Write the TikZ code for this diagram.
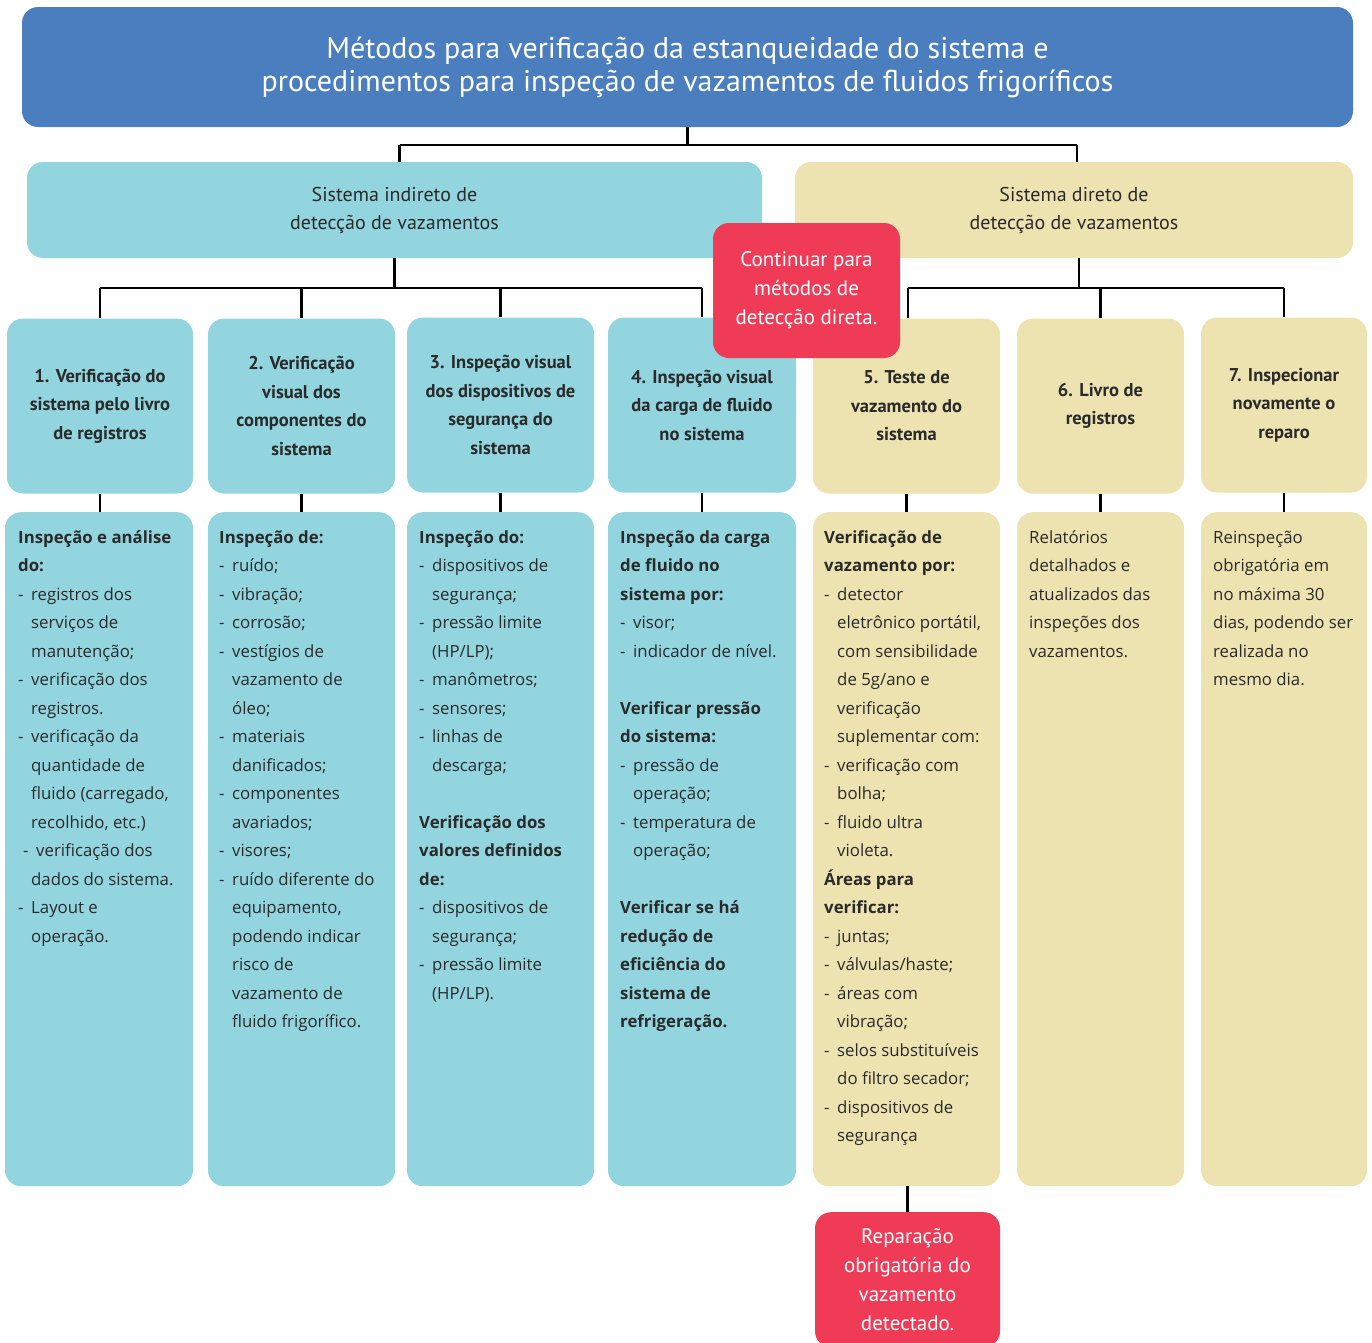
\documentclass[tikz,border=0pt]{standalone}
\usepackage{fontspec}
\setmainfont{Open Sans}
\newfontfamily\headfont{PT Sans}
\usetikzlibrary{calc}
\definecolor{bannerblue}{HTML}{4A7EBF}
\definecolor{indblue}{HTML}{92D5DF}
\definecolor{sand}{HTML}{EDE3B0}
\definecolor{alertred}{HTML}{EF3B55}
\definecolor{ink}{HTML}{2A2A2A}
% list line with a leading dash, and an indented continuation line
\newcommand\dl[1]{\makebox[13pt][l]{-}#1}
\newcommand\cl[1]{\hspace*{13pt}#1}
\begin{document}
\begin{tikzpicture}[x=1pt,y=-1pt,
  panel/.style={rounded corners=16pt, inner sep=0pt, align=center},
  banner/.style={panel, fill=bannerblue, text=white, font=\headfont\fontsize{30}{33}\selectfont},
  group/.style={panel, minimum height=96pt, text=ink, font=\headfont\fontsize{20}{28}\selectfont},
  method/.style={panel, minimum height=175pt, text=ink, font=\headfont\bfseries\fontsize{18.5}{28.5}\selectfont},
  detail/.style={panel, minimum height=674pt, anchor=north},
  body/.style={anchor=base west, inner sep=0pt, text=ink, font=\fontsize{16.8}{28.5}\selectfont},
  alert/.style={panel, fill=alertred, text=white, font=\headfont\fontsize{21}{29}\selectfont},
  conn/.style={draw=black, line width=2.4pt}
]
\useasboundingbox (0,0) rectangle (1372,1342);

% title banner
\node[banner, minimum width=1331pt, minimum height=120pt] (top) at (687.5,67)
  {Métodos para verificação da estanqueidade do sistema e\\procedimentos para inspeção de vazamentos de fluidos frigoríficos};

% the two families of methods
\node[group, fill=indblue, minimum width=735pt] (ind) at (394.5,210)
  {Sistema indireto de\\detecção de vazamentos};
\node[group, fill=sand, minimum width=558pt] (dir) at (1074,210)
  {Sistema direto de\\detecção de vazamentos};

% numbered methods
\node[method, fill=indblue, minimum width=186pt] (b1) at (100,406)
  {1. Verificação do\\sistema pelo livro\\de registros};
\node[method, fill=indblue, minimum width=187pt] (b2) at (301.5,406)
  {2. Verificação\\visual dos\\componentes do\\sistema};
\node[method, fill=indblue, minimum width=187pt] (b3) at (500.5,405)
  {3. Inspeção visual\\dos dispositivos de\\segurança do\\sistema};
\node[method, fill=indblue, minimum width=188pt] (b4) at (702,405)
  {4. Inspeção visual\\da carga de fluido\\no sistema};
\node[method, fill=sand, minimum width=187pt] (b5) at (906.5,406)
  {5. Teste de\\vazamento do\\sistema};
\node[method, fill=sand, minimum width=167pt] (b6) at (1100.5,406)
  {6. Livro de\\registros};
\node[method, fill=sand, minimum width=166pt] (b7) at (1284,405)
  {7. Inspecionar\\novamente o\\reparo};

% detail columns
\node[detail, fill=indblue, minimum width=188pt] (d1) at (99,512) {};
\node[detail, fill=indblue, minimum width=187pt] (d2) at (301.5,512) {};
\node[detail, fill=indblue, minimum width=187pt] (d3) at (500.5,512) {};
\node[detail, fill=indblue, minimum width=188pt] (d4) at (702,512) {};
\node[detail, fill=sand, minimum width=187pt] (d5) at (906.5,512) {};
\node[detail, fill=sand, minimum width=167pt] (d6) at (1100.5,512) {};
\node[detail, fill=sand, minimum width=166pt] (d7) at (1284,512) {};

\node[body] (t1) at (18,543) {\parbox[t]{175pt}{%
\textbf{Inspeção e análise}\\
\textbf{do:}\\
\dl{registros dos}\\
\cl{serviços de}\\
\cl{manutenção;}\\
\dl{verificação dos}\\
\cl{registros.}\\
\dl{verificação da}\\
\cl{quantidade de}\\
\cl{fluido (carregado,}\\
\cl{recolhido, etc.)}\\
\hspace*{5pt}\dl{verificação dos}\\
\cl{dados do sistema.}\\
\dl{Layout e}\\
\cl{operação.}}};

\node[body] (t2) at (219,543) {\parbox[t]{175pt}{%
\textbf{Inspeção de:}\\
\dl{ruído;}\\
\dl{vibração;}\\
\dl{corrosão;}\\
\dl{vestígios de}\\
\cl{vazamento de}\\
\cl{óleo;}\\
\dl{materiais}\\
\cl{danificados;}\\
\dl{componentes}\\
\cl{avariados;}\\
\dl{visores;}\\
\dl{ruído diferente do}\\
\cl{equipamento,}\\
\cl{podendo indicar}\\
\cl{risco de}\\
\cl{vazamento de}\\
\cl{fluido frigorífico.}}};

\node[body] (t3) at (419,543) {\parbox[t]{175pt}{%
\textbf{Inspeção do:}\\
\dl{dispositivos de}\\
\cl{segurança;}\\
\dl{pressão limite}\\
\cl{(HP/LP);}\\
\dl{manômetros;}\\
\dl{sensores;}\\
\dl{linhas de}\\
\cl{descarga;}\\
\mbox{}\\
\textbf{Verificação dos}\\
\textbf{valores definidos}\\
\textbf{de:}\\
\dl{dispositivos de}\\
\cl{segurança;}\\
\dl{pressão limite}\\
\cl{(HP/LP).}}};

\node[body] (t4) at (620,543) {\parbox[t]{175pt}{%
\textbf{Inspeção da carga}\\
\textbf{de fluido no}\\
\textbf{sistema por:}\\
\dl{visor;}\\
\dl{indicador de nível.}\\
\mbox{}\\
\textbf{Verificar pressão}\\
\textbf{do sistema:}\\
\dl{pressão de}\\
\cl{operação;}\\
\dl{temperatura de}\\
\cl{operação;}\\
\mbox{}\\
\textbf{Verificar se há}\\
\textbf{redução de}\\
\textbf{eficiência do}\\
\textbf{sistema de}\\
\textbf{refrigeração.}}};

\node[body] (t5) at (824,543) {\parbox[t]{175pt}{%
\textbf{Verificação de}\\
\textbf{vazamento por:}\\
\dl{detector}\\
\cl{eletrônico portátil,}\\
\cl{com sensibilidade}\\
\cl{de 5g/ano e}\\
\cl{verificação}\\
\cl{suplementar com:}\\
\dl{verificação com}\\
\cl{bolha;}\\
\dl{fluido ultra}\\
\cl{violeta.}\\
\textbf{Áreas para}\\
\textbf{verificar:}\\
\dl{juntas;}\\
\dl{válvulas/haste;}\\
\dl{áreas com}\\
\cl{vibração;}\\
\dl{selos substituíveis}\\
\cl{do filtro secador;}\\
\dl{dispositivos de}\\
\cl{segurança}}};

\node[body] (t6) at (1029,543) {\parbox[t]{160pt}{%
Relatórios\\
detalhados e\\
atualizados das\\
inspeções dos\\
vazamentos.}};

\node[body] (t7) at (1213,543) {\parbox[t]{160pt}{%
Reinspeção\\
obrigatória em\\
no máxima 30\\
dias, podendo ser\\
realizada no\\
mesmo dia.}};

% connectors
\coordinate (jTop) at (687.5,145);
\coordinate (jL) at (394.5,288);
\coordinate (jR) at (1079,288);
\draw[conn] (top.south) -- (jTop);
\draw[conn] ([xshift=5pt]ind.north |- jTop) -- ([xshift=3pt]dir.north |- jTop);
\draw[conn] ([xshift=5pt]ind.north |- jTop) -- ([xshift=5pt]ind.north);
\draw[conn] ([xshift=3pt]dir.north |- jTop) -- ([xshift=3pt]dir.north);

\draw[conn] (ind.south) -- (jL);
\draw[conn] (b1.north |- jL) -- (b4.north |- jL);
\foreach \b in {b1,b2,b3,b4} \draw[conn] (\b.north |- jL) -- (\b.north);

\draw[conn] ([xshift=5pt]dir.south) -- ([xshift=5pt]dir.south |- jR);
\draw[conn] ([xshift=1.5pt]b5.north |- jR) -- (b7.north |- jR);
\draw[conn] ([xshift=1.5pt]b5.north |- jR) -- ([xshift=1.5pt]b5.north);
\foreach \b in {b6,b7} \draw[conn] (\b.north |- jR) -- (\b.north);

\foreach \i in {1,...,7} \draw[conn] (b\i.south) -- (b\i.south |- d\i.north);

% highlighted notes
\node[alert, minimum width=187pt, minimum height=135pt] (cont) at (806.5,290.5)
  {Continuar para\\métodos de\\detecção direta.};
\node[alert, minimum width=185pt, minimum height=135pt, anchor=north] (rep) at (907.5,1212)
  {Reparação\\obrigatória do\\vazamento\\detectado.};
\draw[conn] (rep.north |- d5.south) -- (rep.north);
\end{tikzpicture}
\end{document}
